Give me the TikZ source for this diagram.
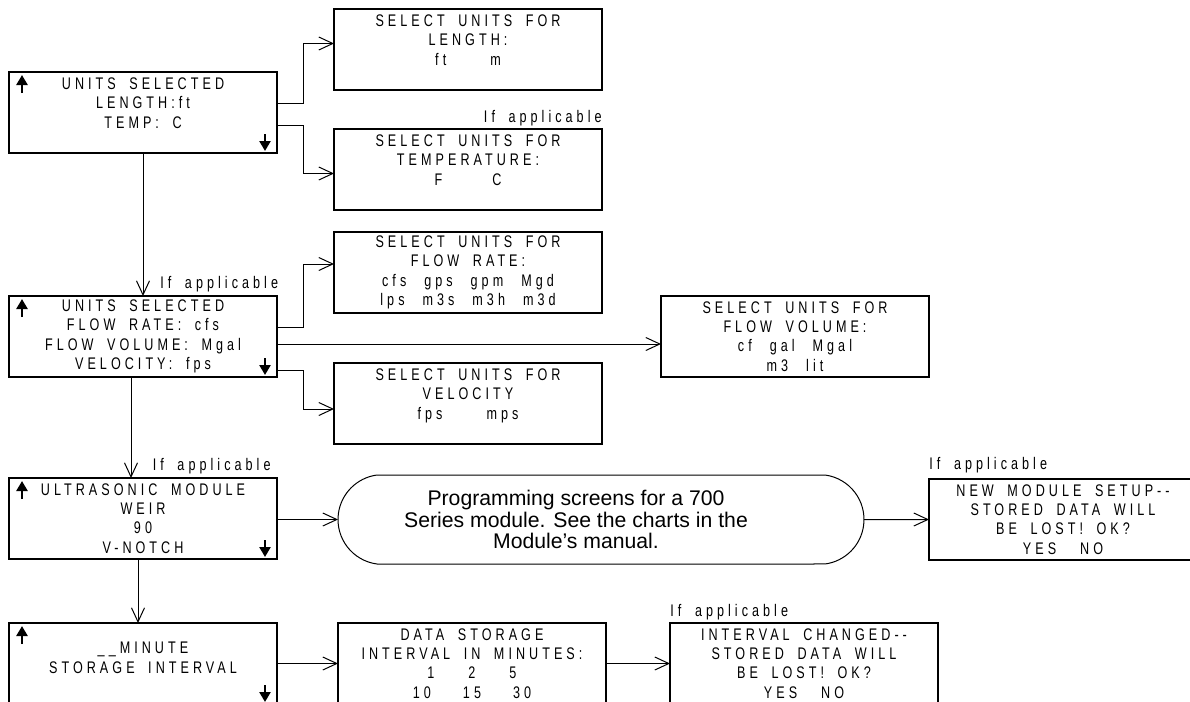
\documentclass[tikz,border=0pt]{standalone}
\usepackage{fontspec}
\setmainfont{Liberation Sans}
\newfontfamily\lcdfont[FakeStretch=0.75,LetterSpace=24,WordSpace=1.8]{Liberation Sans}
\usetikzlibrary{arrows.meta,positioning,shapes.misc}

\begin{document}
\begin{tikzpicture}[
    x=0.5pt, y=-0.5pt,
    lcd/.style={rectangle, draw, line width=1.2pt, outer sep=0pt, minimum width=134pt, minimum height=40.5pt, inner sep=0pt, align=center, font=\lcdfont\fontsize{8.4pt}{9.65pt}\selectfont},
    note/.style={inner sep=0pt, font=\lcdfont\fontsize{8.4pt}{9.65pt}\selectfont},
    pill/.style={rounded rectangle, rounded rectangle arc length=165, draw, line width=0.5pt, outer sep=0pt, minimum width=263pt, minimum height=44.5pt, inner sep=0pt},
    conn/.style={-{Straight Barb[length=7pt,width=6.5pt]}, line width=0.5pt},
    scroll/.style={-{Triangle[length=5pt,width=5.5pt]}, line width=1.3pt}
]
    \useasboundingbox (0,0) rectangle (1190,702);
    \clip (0,0) rectangle (1190,702);

    % left column: units screens
    \node[lcd, anchor=north west] (units1) at (9,72) {UNITS SELECTED\\LENGTH:ft\\TEMP: C\\~};
    \node[lcd, below=71.5pt of units1] (units2) {UNITS SELECTED\\FLOW RATE: cfs\\FLOW VOLUME: Mgal\\VELOCITY: fps};
    \node[lcd, below=50.5pt of units2] (ultra) {ULTRASONIC MODULE\\WEIR\\90\\V-NOTCH};
    \node[lcd, below=32pt of ultra] (minute) {~\\\_\_MINUTE\\STORAGE INTERVAL\\~};

    % unit selection screens
    \node[lcd, anchor=north west] (len) at (334,9) {SELECT UNITS FOR\\LENGTH:\\ft\hspace{22pt}m\\~};
    \node[lcd, below=19.5pt of len] (temp) {SELECT UNITS FOR\\TEMPERATURE:\\F\hspace{25pt}C\\~};
    \node[lcd, below=11pt of temp] (rate) {SELECT UNITS FOR\\FLOW RATE:\\cfs\hspace{9pt}gps\hspace{9pt}gpm\hspace{9pt}Mgd\\lps\hspace{9pt}m3s\hspace{9pt}m3h\hspace{9pt}m3d};
    \node[lcd, below=25pt of rate] (vel) {SELECT UNITS FOR\\VELOCITY\\fps\hspace{22pt}mps\\~};
    \node[lcd, anchor=north west] (vol) at (661,296) {SELECT UNITS FOR\\FLOW VOLUME:\\cf\hspace{9pt}gal\hspace{9pt}Mgal\\m3\hspace{9pt}lit};

    % module programming
    \node[pill, label={[align=center, xshift=-12.5pt, font=\fontsize{10.6pt}{10.6pt}\selectfont]center:Programming screens for a 700\\Series module. See the charts in the\\Module’s manual.}] (prog) at (601,519.5) {};
    \node[lcd, right=32.5pt of prog] (newmod) {NEW MODULE SETUP-{}-\\STORED DATA WILL\\BE LOST! OK?\\YES\hspace{12pt}NO};

    % storage interval
    \node[lcd, right=30.5pt of minute] (store) {DATA STORAGE\\INTERVAL IN MINUTES:\\1\hspace{17pt}2\hspace{17pt}5\\10\hspace{16pt}15\hspace{16pt}30};
    \node[lcd, right=32pt of store] (chg) {INTERVAL CHANGED-{}-\\STORED DATA WILL\\BE LOST! OK?\\YES\hspace{12pt}NO};

    \node[note, anchor=base west] (ifunits2) at ([shift={(8.5pt,4pt)}]units2.north) {If applicable};
    \node[note, anchor=base west] (ifultra) at ([shift={(4.75pt,4pt)}]ultra.north) {If applicable};
    \node[note, anchor=base east] (iftemp) at ([yshift=3.5pt]temp.north east) {If applicable};
    \node[note, anchor=base west] (ifnewmod) at ([yshift=5pt]newmod.north west) {If applicable};
    \node[note, anchor=base west] (ifchg) at ([yshift=3.5pt]chg.north west) {If applicable};

    % scroll arrows
    \foreach \n in {units1,units2,ultra,minute}{
        \draw[scroll] ([shift={(6.5pt,-10.5pt)}]\n.north west) -- ++(0pt,9pt);
        \draw[scroll] ([shift={(-6pt,9.5pt)}]\n.south east) -- ++(0pt,-8.5pt);
    }

    \draw[conn] ([yshift=4.75pt]units1.east) -- ++(13pt,0pt) |- ([yshift=3pt]len.west);
    \draw[conn] ([yshift=-6.25pt]units1.east) -- ++(13pt,0pt) |- ([yshift=-2pt]temp.west);
    \draw[conn] (units1) -- (units2);
    \draw[conn] ([yshift=4.75pt]units2.east) -- ++(13pt,0pt) |- ([yshift=4.25pt]rate.west);
    \draw[conn] ([yshift=-3.75pt]units2.east) -- ([yshift=-3.75pt]vol.west);
    \draw[conn] ([yshift=-16.75pt]units2.east) -- ++(13pt,0pt) |- ([yshift=-2.75pt]vel.west);
    \draw[conn] ([xshift=-6pt]units2.south) -- ([xshift=-6pt]ultra.north);
    \draw[conn] (ultra.east |- prog) -- (prog);
    \draw[conn] (prog) -- (newmod);
    \draw[conn] ([xshift=-2.5pt]ultra.south) -- ([xshift=-2.5pt]minute.north);
    \draw[conn] (minute) -- (store);
    \draw[conn] (store) -- (chg);
\end{tikzpicture}
\end{document}
